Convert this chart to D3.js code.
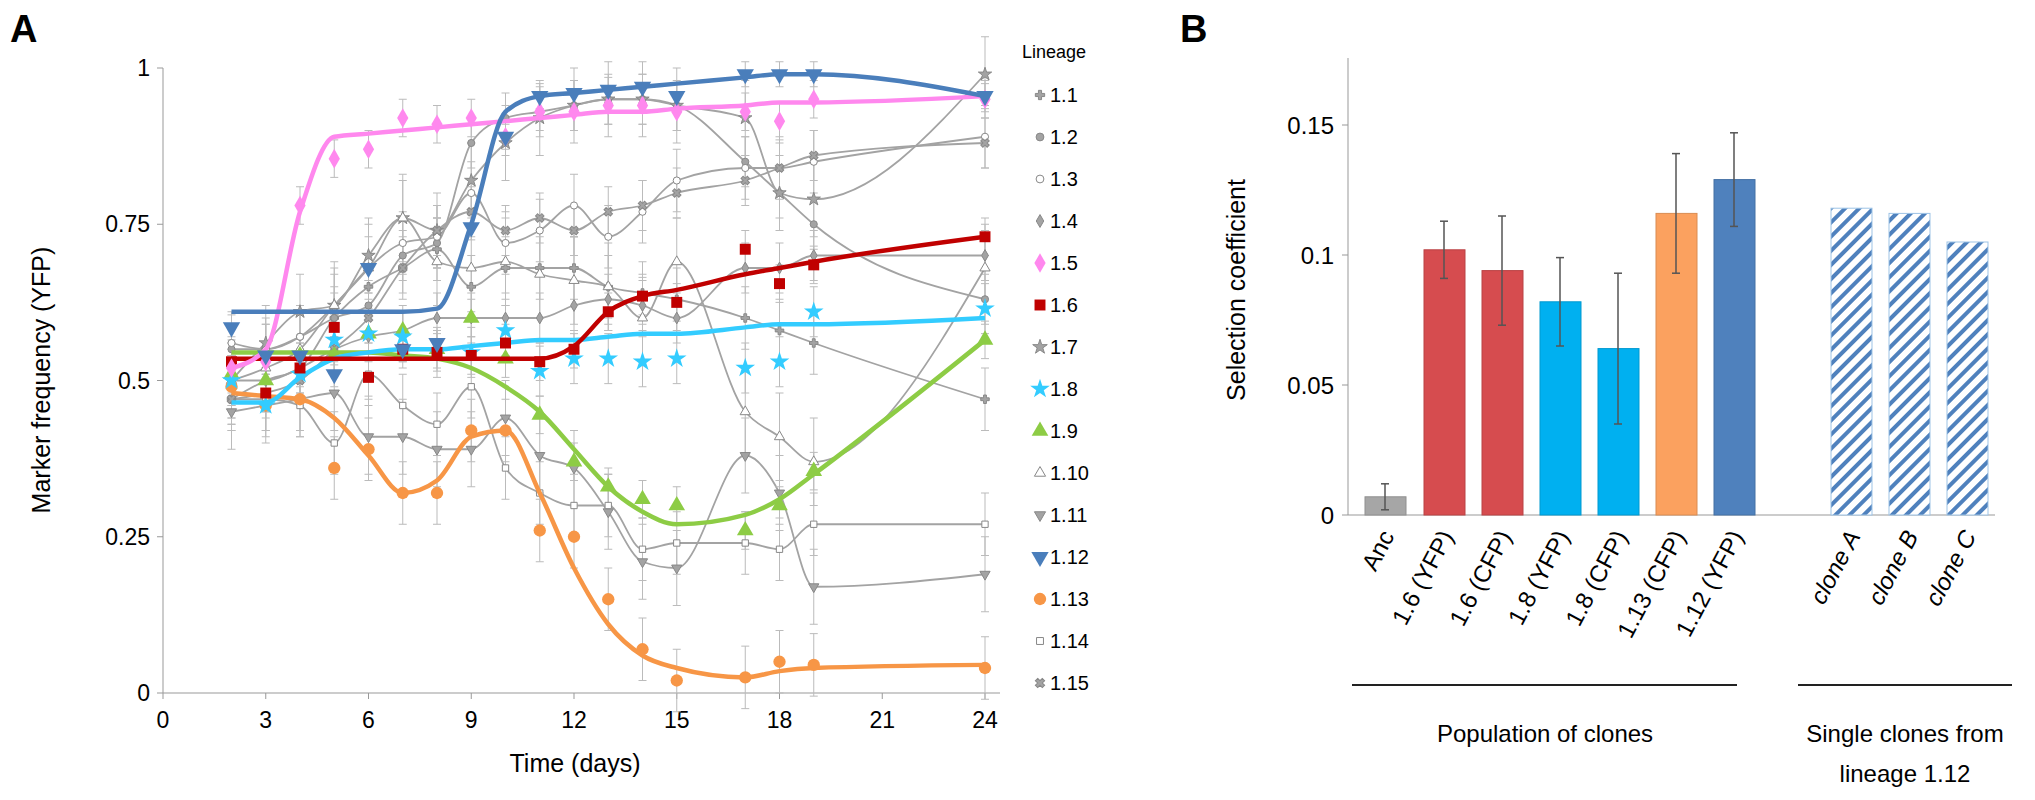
<!DOCTYPE html>
<html><head><meta charset="utf-8">
<script src="https://cdn.jsdelivr.net/npm/d3@7"></script>
<style>body{margin:0;background:#fff;font-family:"Liberation Sans",Arial,sans-serif;}</style>
</head><body><div id="chart"></div>
<script>
var days = [2,3,4,5,6,7,8,9,10,11,12,13,14,15,17,18,19,24];
var lineages = ["1.1","1.2","1.3","1.4","1.5","1.6","1.7","1.8","1.9","1.10","1.11","1.12","1.13","1.14","1.15"];
var values = {
  "1.1": [0.47,0.50,0.52,0.60,0.65,0.68,0.71,0.65,0.68,0.68,0.68,0.65,0.64,0.63,0.60,0.58,0.56,0.47],
  "1.2": [0.55,0.55,0.57,0.60,0.62,0.70,0.72,0.88,0.92,0.93,0.94,0.95,0.95,0.94,0.85,0.80,0.75,0.63],
  "1.3": [0.56,0.55,0.57,0.62,0.68,0.72,0.73,0.80,0.72,0.74,0.78,0.73,0.77,0.82,0.84,0.84,0.85,0.89],
  "1.4": [0.50,0.50,0.52,0.55,0.57,0.58,0.60,0.60,0.60,0.60,0.62,0.63,0.62,0.60,0.68,0.68,0.70,0.70],
  "1.5": [0.52,0.53,0.78,0.855,0.87,0.92,0.91,0.92,0.89,0.93,0.93,0.94,0.94,0.93,0.93,0.915,0.95,0.95],
  "1.6": [0.53,0.48,0.52,0.585,0.505,0.55,0.545,0.54,0.56,0.53,0.55,0.61,0.635,0.625,0.71,0.655,0.685,0.73],
  "1.7": [0.50,0.56,0.61,0.62,0.70,0.76,0.74,0.82,0.88,0.92,0.94,0.95,0.95,0.94,0.92,0.80,0.79,0.99],
  "1.8": [0.50,0.46,0.51,0.565,0.575,0.57,0.545,0.545,0.58,0.515,0.535,0.535,0.53,0.535,0.52,0.53,0.61,0.615],
  "1.9": [0.51,0.50,0.54,0.54,0.575,0.58,0.55,0.60,0.535,0.445,0.37,0.33,0.31,0.30,0.26,0.30,0.355,0.565],
  "1.10": [0.50,0.52,0.55,0.62,0.68,0.76,0.69,0.68,0.69,0.67,0.66,0.65,0.60,0.69,0.45,0.41,0.37,0.68],
  "1.11": [0.45,0.46,0.47,0.48,0.41,0.41,0.39,0.39,0.44,0.38,0.36,0.29,0.21,0.20,0.38,0.32,0.17,0.19],
  "1.12": [0.585,0.54,0.54,0.51,0.68,0.55,0.56,0.745,0.89,0.955,0.96,0.965,0.97,0.955,0.99,0.99,0.99,0.955],
  "1.13": [0.49,0.46,0.47,0.36,0.39,0.32,0.32,0.42,0.42,0.26,0.25,0.15,0.07,0.02,0.025,0.05,0.045,0.04],
  "1.14": [0.47,0.47,0.46,0.40,0.51,0.46,0.43,0.49,0.36,0.32,0.30,0.30,0.23,0.24,0.24,0.23,0.27,0.27],
  "1.15": [0.47,0.48,0.50,0.55,0.60,0.68,0.74,0.77,0.74,0.76,0.74,0.77,0.78,0.80,0.82,0.84,0.86,0.88]
};
var fits = {
  "1.5": [0.52,0.55,0.77,0.89,0.895,0.90,0.905,0.91,0.915,0.92,0.925,0.93,0.93,0.935,0.94,0.945,0.945,0.955],
  "1.12": [0.61,0.61,0.61,0.61,0.61,0.61,0.615,0.75,0.93,0.955,0.96,0.965,0.97,0.975,0.985,0.99,0.99,0.955],
  "1.6": [0.535,0.535,0.535,0.535,0.535,0.535,0.535,0.535,0.535,0.535,0.555,0.61,0.635,0.645,0.67,0.68,0.69,0.73],
  "1.8": [0.465,0.465,0.505,0.535,0.545,0.55,0.55,0.555,0.56,0.565,0.565,0.57,0.575,0.575,0.585,0.59,0.59,0.60],
  "1.9": [0.545,0.545,0.545,0.545,0.545,0.54,0.535,0.52,0.49,0.45,0.39,0.33,0.29,0.27,0.285,0.31,0.35,0.565],
  "1.13": [0.48,0.475,0.47,0.44,0.38,0.32,0.34,0.41,0.42,0.32,0.20,0.11,0.06,0.04,0.025,0.035,0.04,0.045]
};
var errs = [0.05,0.04,0.05,0.04,0.03,0.03,0.06,0.04,0.03,0.07,0.06,0.02,0.05,0.05,0.04];
var colors = {"1.5":"#ff88ee","1.6":"#c00000","1.8":"#33ccff","1.9":"#8dcc45","1.12":"#4a7ebb","1.13":"#f79646"};
var xTicks = [0,3,6,9,12,15,18,21,24];
var yTicks = [0,0.25,0.5,0.75,1];

var barLabels = ["Anc","1.6 (YFP)","1.6 (CFP)","1.8 (YFP)","1.8 (CFP)","1.13 (CFP)","1.12 (YFP)","","clone A","clone B","clone C"];
var barValues = [0.007,0.102,0.094,0.082,0.064,0.116,0.129,null,0.118,0.116,0.105];
var barErrors = [0.005,0.011,0.021,0.017,0.029,0.023,0.018,null,0,0,0];
var barColors = ["#a6a6a6","#d64c4f","#d64c4f","#00b0f0","#00b0f0","#fba15f","#4f81bd",null,"hatch","hatch","hatch"];
var bTicks = [0,0.05,0.1,0.15];

var svg = d3.select("#chart").append("svg").attr("width",2035).attr("height",800);
var gray = "#a3a3a3";

// panel A
var x = d3.scaleLinear().domain([0,24]).range([163,985]);
var y = d3.scaleLinear().domain([0,1]).range([693,68]);
var gA = svg.append("g");
gA.append("line").attr("x1",163).attr("x2",1000).attr("y1",693).attr("y2",693).attr("stroke","#999");
gA.append("line").attr("x1",163).attr("x2",163).attr("y1",68).attr("y2",693).attr("stroke","#999");
xTicks.forEach(function(t){
  gA.append("line").attr("x1",x(t)).attr("x2",x(t)).attr("y1",693).attr("y2",699).attr("stroke","#999");
  gA.append("text").attr("x",x(t)).attr("y",728).attr("text-anchor","middle").attr("font-size",23).text(t);
});
yTicks.forEach(function(t){
  gA.append("line").attr("x1",157).attr("x2",163).attr("y1",y(t)).attr("y2",y(t)).attr("stroke","#999");
  gA.append("text").attr("x",150).attr("y",y(t)+8).attr("text-anchor","end").attr("font-size",23).text(t);
});
gA.append("text").attr("x",575).attr("y",772).attr("text-anchor","middle").attr("font-size",25).text("Time (days)");
gA.append("text").attr("transform","translate(50,380) rotate(-90)").attr("text-anchor","middle").attr("font-size",25).text("Marker frequency (YFP)");
svg.append("text").attr("x",10).attr("y",42).attr("font-size",38).attr("font-weight","bold").text("A");
svg.append("text").attr("x",1180).attr("y",42).attr("font-size",38).attr("font-weight","bold").text("B");

var symbolFor = {
  "1.1":[d3.symbolCross,40,true,0],"1.2":[d3.symbolCircle,40,true,0],"1.3":[d3.symbolCircle,40,false,0],
  "1.4":[d3.symbolDiamond,40,true,0],"1.5":[d3.symbolDiamond,110,true,0],"1.6":[d3.symbolSquare,120,true,0],
  "1.7":[d3.symbolStar,55,true,0],"1.8":[d3.symbolStar,120,true,0],"1.9":[d3.symbolTriangle,120,true,0],
  "1.10":[d3.symbolTriangle,45,false,0],"1.11":[d3.symbolTriangle,45,true,180],"1.12":[d3.symbolTriangle,130,true,180],
  "1.13":[d3.symbolCircle,120,true,0],"1.14":[d3.symbolSquare,40,false,0],"1.15":[d3.symbolCross,45,true,45]
};
var line = d3.line().x(function(d){return x(d[0]);}).y(function(d){return y(d[1]);}).curve(d3.curveMonotoneX);

function drawMarker(g, name, cx, cy, small) {
  var s = symbolFor[name], col = colors[name] || gray;
  var size = small && !colors[name] ? s[1]*1.2 : s[1];
  g.append("path").attr("d", d3.symbol().type(s[0]).size(size)())
    .attr("transform","translate("+cx+","+cy+") rotate("+s[3]+")")
    .attr("fill", s[2] ? col : "#fff").attr("stroke", s[2] ? (colors[name] ? "none" : "#888") : "#888")
    .attr("stroke-width",1);
}

var colored = ["1.13","1.9","1.8","1.6","1.5","1.12"];
var order = lineages.filter(function(l){return !colors[l];}).concat(colored);
// error bars and gray lines first
order.forEach(function(name){
  var i = lineages.indexOf(name);
  var pts = days.map(function(d,j){return [d, values[name][j]];});
  pts.forEach(function(p){
    var e = errs[i];
    gA.append("line").attr("x1",x(p[0])).attr("x2",x(p[0])).attr("y1",y(p[1]-e)).attr("y2",y(p[1]+e)).attr("stroke","#bbb").attr("stroke-width",1);
    [p[1]-e,p[1]+e].forEach(function(v){
      gA.append("line").attr("x1",x(p[0])-4).attr("x2",x(p[0])+4).attr("y1",y(v)).attr("y2",y(v)).attr("stroke","#bbb");
    });
  });
  if (!colors[name]) {
    gA.append("path").attr("d", line(pts)).attr("fill","none").attr("stroke",gray).attr("stroke-width",1.8);
  }
});
order.forEach(function(name){
  if (!colors[name]) days.forEach(function(d,j){ drawMarker(gA,name,x(d),y(values[name][j])); });
});
colored.forEach(function(name){
  var f = days.map(function(d,j){return [d, fits[name][j]];});
  gA.append("path").attr("d", line(f)).attr("fill","none").attr("stroke",colors[name]).attr("stroke-width",4.5);
  days.forEach(function(d,j){ drawMarker(gA,name,x(d),y(values[name][j])); });
});

// legend
var lg = svg.append("g");
lg.append("text").attr("x",1022).attr("y",58).attr("font-size",18).text("Lineage");
lineages.forEach(function(name,i){
  var ly = 95 + i*42;
  drawMarker(lg,name,1040,ly,true);
  lg.append("text").attr("x",1050).attr("y",ly+7).attr("font-size",20).text(name);
});

// panel B
var bx = [1385,1444,1502,1560,1618,1676,1734,null,1851,1909,1967];
var yb = d3.scaleLinear().domain([0,0.15]).range([515,125]);
var gB = svg.append("g");
var defs = svg.append("defs");
var pat = defs.append("pattern").attr("id","hatch").attr("patternUnits","userSpaceOnUse").attr("width",10).attr("height",10)
  .attr("patternTransform","rotate(45)");
pat.append("rect").attr("width",10).attr("height",10).attr("fill","#fff");
pat.append("rect").attr("width",4).attr("height",10).attr("fill","#4f81bd");
gB.append("line").attr("x1",1348).attr("x2",1348).attr("y1",58).attr("y2",515).attr("stroke","#999");
gB.append("line").attr("x1",1348).attr("x2",1995).attr("y1",515).attr("y2",515).attr("stroke","#999");
bTicks.forEach(function(t){
  gB.append("line").attr("x1",1342).attr("x2",1348).attr("y1",yb(t)).attr("y2",yb(t)).attr("stroke","#999");
  gB.append("text").attr("x",1334).attr("y",yb(t)+9).attr("text-anchor","end").attr("font-size",24).text(t);
});
gB.append("text").attr("transform","translate(1245,290) rotate(-90)").attr("text-anchor","middle").attr("font-size",25).text("Selection coefficient");
barValues.forEach(function(v,i){
  if (v === null) return;
  var c = barColors[i];
  gB.append("rect").attr("x",bx[i]-20).attr("width",41).attr("y",yb(v)).attr("height",yb(0)-yb(v))
    .attr("fill", c === "hatch" ? "url(#hatch)" : c)
    .attr("stroke", c === "hatch" ? "#9dc3e6" : d3.color(c).darker(0.4)).attr("stroke-width",1);
  if (barErrors[i] > 0) {
    var e = barErrors[i];
    gB.append("line").attr("x1",bx[i]).attr("x2",bx[i]).attr("y1",yb(v-e)).attr("y2",yb(v+e)).attr("stroke","#555").attr("stroke-width",1.5);
    [v-e,v+e].forEach(function(w){
      gB.append("line").attr("x1",bx[i]-4).attr("x2",bx[i]+4).attr("y1",yb(w)).attr("y2",yb(w)).attr("stroke","#555").attr("stroke-width",1.5);
    });
  }
  gB.append("text").attr("transform","translate("+(bx[i]+10)+",536) rotate(-62)").attr("text-anchor","end")
    .attr("font-size",24).attr("font-style", i >= 8 ? "italic" : "normal").text(barLabels[i]);
});
gB.append("line").attr("x1",1352).attr("x2",1737).attr("y1",685).attr("y2",685).attr("stroke","#222").attr("stroke-width",2);
gB.append("line").attr("x1",1798).attr("x2",2012).attr("y1",685).attr("y2",685).attr("stroke","#222").attr("stroke-width",2);
gB.append("text").attr("x",1545).attr("y",742).attr("text-anchor","middle").attr("font-size",24).text("Population of clones");
gB.append("text").attr("x",1905).attr("y",742).attr("text-anchor","middle").attr("font-size",24).text("Single clones from");
gB.append("text").attr("x",1905).attr("y",782).attr("text-anchor","middle").attr("font-size",24).text("lineage 1.12");
</script></body></html>
